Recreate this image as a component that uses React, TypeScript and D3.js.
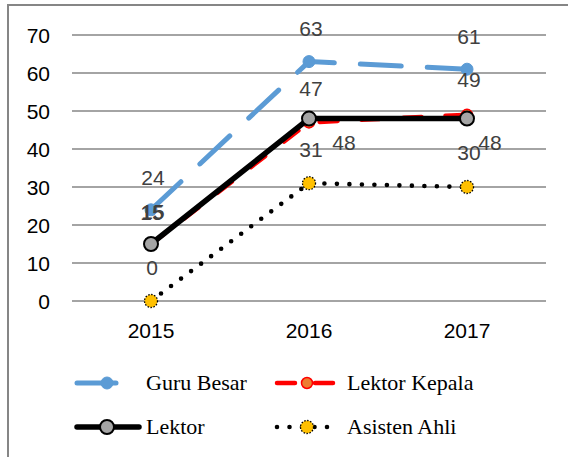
import React, { useRef, useEffect } from 'react';
import * as d3 from "d3";

// chart data
const years = ["2015", "2016", "2017"];
const seriesNames = ["Guru Besar", "Lektor Kepala", "Lektor", "Asisten Ahli"];
const guruBesar = [24, 63, 61];
const lektorKepala = [15, 47, 49];
const lektor = [15, 48, 48];
const asistenAhli = [0, 31, 30];
const yTicks = [0, 10, 20, 30, 40, 50, 60, 70];

export default function App() {
    const svgRef = useRef<SVGSVGElement>(null);

    useEffect(() => {
        var svg = d3.select(svgRef.current);
        svg.selectAll("*").remove();

        var x = d3.scalePoint()
            .domain(years)
            .range([72, 546])
            .padding(0.5);

        var y = d3.scaleLinear()
            .domain([0, 70])
            .range([301, 35]);

        var axisFont = "'Liberation Sans', Arial, sans-serif";

        // outer border
        svg.append("rect")
            .attr("x", 8)
            .attr("y", 5)
            .attr("width", 566)
            .attr("height", 470)
            .attr("fill", "#fff")
            .attr("stroke", "#868686")
            .attr("stroke-width", 2);

        // gridlines
        svg.append("g").selectAll("line")
            .data(yTicks)
            .enter().append("line")
            .attr("x1", 72)
            .attr("x2", 546)
            .attr("y1", d => y(d))
            .attr("y2", d => y(d))
            .attr("stroke", "#868686")
            .attr("stroke-width", 1.3);

        svg.append("g").selectAll("text")
            .data(yTicks)
            .enter().append("text")
            .attr("x", 50)
            .attr("y", d => y(d) + 7.5)
            .attr("text-anchor", "end")
            .attr("font-family", axisFont)
            .attr("font-size", 21)
            .attr("fill", "#000")
            .text(d => d);

        svg.append("g").selectAll("text")
            .data(years)
            .enter().append("text")
            .attr("x", d => x(d)!)
            .attr("y", 338)
            .attr("text-anchor", "middle")
            .attr("font-family", axisFont)
            .attr("font-size", 21)
            .attr("fill", "#000")
            .text(d => d);

        var series = [
            { name: seriesNames[0], values: guruBesar, stroke: "#5B9BD5", width: 5, dash: "41 26",
              marker: { r: 6, fill: "#5B9BD5", stroke: "#5B9BD5", sw: 1, dash: null },
              offsets: [[2, -25], [2, -26], [2, -25]] },
            { name: seriesNames[1], values: lektorKepala, stroke: "#FF0000", width: 4.5, dash: "18 24",
              marker: { r: 5.5, fill: "#ED7D31", stroke: "#FF0000", sw: 1.5, dash: null },
              offsets: [[1, -24], [2, -26], [2, -28]] },
            { name: seriesNames[2], values: lektor, stroke: "#000", width: 5.5, dash: null,
              marker: { r: 7, fill: "#A5A5A5", stroke: "#000", sw: 2, dash: null },
              offsets: [[2, -25], [35, 31], [23, 31]] },
            { name: seriesNames[3], values: asistenAhli, stroke: "#000", width: 4.6, dash: "0 12.5",
              marker: { r: 6.5, fill: "#FFC000", stroke: "#000", sw: 1.3, dash: "1.5 1.5" },
              offsets: [[1, -26], [2, -26], [2, -27]] }
        ];

        var line = d3.line<number>()
            .x((d, i) => x(years[i])!)
            .y(d => y(d));

        series.forEach(function (s) {
            var g = svg.append("g");
            g.append("path")
                .attr("d", line(s.values))
                .attr("fill", "none")
                .attr("stroke", s.stroke)
                .attr("stroke-width", s.width)
                .attr("stroke-linecap", "round")
                .attr("stroke-linejoin", "round")
                .attr("stroke-dasharray", s.dash);

            g.selectAll("circle")
                .data(s.values)
                .enter().append("circle")
                .attr("cx", (d, i) => x(years[i])!)
                .attr("cy", d => y(d))
                .attr("r", s.marker.r)
                .attr("fill", s.marker.fill)
                .attr("stroke", s.marker.stroke)
                .attr("stroke-width", s.marker.sw)
                .attr("stroke-dasharray", s.marker.dash);
        });

        // data labels
        series.forEach(function (s) {
            svg.append("g").selectAll("text")
                .data(s.values)
                .enter().append("text")
                .attr("x", (d, i) => x(years[i])! + s.offsets[i][0])
                .attr("y", (d, i) => y(d) + s.offsets[i][1])
                .attr("text-anchor", "middle")
                .attr("font-family", axisFont)
                .attr("font-size", 21)
                .attr("fill", "#404040")
                .text(d => d);
        });

        // legend
        var legendPos = [[75, 383], [275, 383], [75, 427], [275, 427]];
        var legendLen = [64, 61, 66, 60];
        series.forEach(function (s, i) {
            var lx = legendPos[i][0], ly = legendPos[i][1];
            var g = svg.append("g");
            var legendDash = i === 0 ? "39 23" : i === 1 ? "18 20" : s.dash;
            g.append("line")
                .attr("x1", lx + 2)
                .attr("x2", lx + legendLen[i] - 2)
                .attr("y1", ly)
                .attr("y2", ly)
                .attr("stroke", s.stroke)
                .attr("stroke-width", s.width)
                .attr("stroke-linecap", "round")
                .attr("stroke-dasharray", legendDash);
            g.append("circle")
                .attr("cx", lx + 32)
                .attr("cy", ly)
                .attr("r", s.marker.r)
                .attr("fill", s.marker.fill)
                .attr("stroke", s.marker.stroke)
                .attr("stroke-width", s.marker.sw)
                .attr("stroke-dasharray", s.marker.dash);
            g.append("text")
                .attr("x", i % 2 === 0 ? 146 : 347)
                .attr("y", ly + 7)
                .attr("font-family", "'Liberation Serif', 'Times New Roman', serif")
                .attr("font-size", 22)
                .attr("fill", "#000")
                .text(s.name);
        });
    }, []);

    return (
        <svg ref={svgRef} width={568} height={457}
            style={{ position: "absolute", left: 0, top: 0, background: "#fff" }}>
        </svg>
    );
}
